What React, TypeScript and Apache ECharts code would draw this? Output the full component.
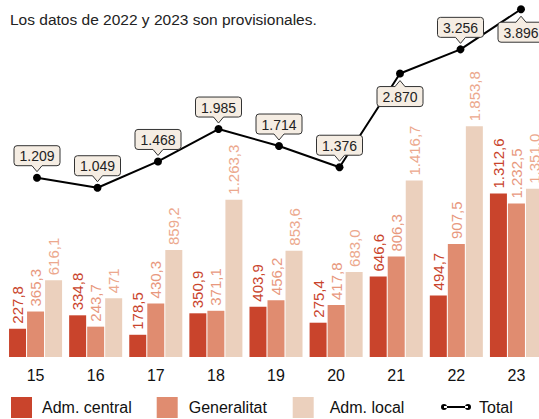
import React, { useEffect, useRef } from "react";
import * as echarts from "echarts";

const CATEGORIES = ["15", "16", "17", "18", "19", "20", "21", "22", "23"];
const ADM_CENTRAL = ["227.8", "334.8", "178.5", "350.9", "403.9", "275.4", "646.6", "494.7", "1312.6"];
const GENERALITAT = ["365.3", "243.7", "430.3", "371.1", "456.2", "417.8", "806.3", "907.5", "1232.5"];
const ADM_LOCAL = ["616.1", "471", "859.2", "1263.3", "853.6", "683.0", "1416.7", "1853.8", "1351.0"];
const TOTAL = [1209, 1049, 1468, 1985, 1714, 1376, 2870, 3256, 3896];
const LABEL_BELOW = ["21", "23"];
const SUBTITLE = "Los datos de 2022 y 2023 son provisionales.";

const FONT = '"Liberation Sans", Arial, Helvetica, sans-serif';
const C_CENTRAL = "#c9442c";
const C_GEN = "#e08c70";
const C_LOCAL = "#ebd0bd";
const L_CENTRAL = "#c9442c";
const L_GEN = "#e8987e";
const L_LOCAL = "#eca88d";
const BOX_FILL = "#f5ede3";

function groupThousands(s: string): string {
  return s.replace(/\B(?=(\d{3})+(?!\d))/g, ".");
}
function fmtRaw(s: string): string {
  const [a, b] = s.split(".");
  return groupThousands(a) + (b !== undefined ? "," + b : "");
}

const TOTAL_ICON =
  "path://M0,4a3,3 0 1,0 6,0a3,3 0 1,0 -6,0Z M24,4a3,3 0 1,0 6,0a3,3 0 1,0 -6,0Z M3,3h24v2h-24Z";

function barSeries(name: string, raw: string[], color: string, labelColor: string) {
  return {
    name,
    type: "bar",
    barWidth: 17,
    barGap: "6%",
    data: raw.map(Number),
    itemStyle: { color },
    label: {
      show: true,
      position: "top",
      rotate: 90,
      align: "left",
      verticalAlign: "middle",
      distance: 5,
      fontSize: 15,
      fontFamily: FONT,
      color: labelColor,
      formatter: (p: any) => fmtRaw(raw[p.dataIndex]),
    },
    z: 2,
  };
}

export default function App() {
  const ref = useRef<HTMLDivElement>(null);
  useEffect(() => {
    if (!ref.current) return;
    const chart = echarts.init(ref.current, null, { renderer: "svg" });
    const legendText = (padLeft: number) => ({
      fontSize: 16,
      fontFamily: FONT,
      color: "#111",
      padding: [0, 0, 0, padLeft],
    });
    chart.setOption({
      animation: false,
      title: {
        text: SUBTITLE,
        left: 10,
        top: 11,
        padding: 0,
        textStyle: { fontSize: 15.5, fontWeight: "normal", color: "#222", fontFamily: FONT },
      },
      grid: [
        { left: 5.5, width: 541, top: 0, bottom: 62, containLabel: false },
        { left: 6.75, width: 544.5, top: 0, bottom: 62, containLabel: false },
      ],
      xAxis: [
        {
          type: "category",
          data: CATEGORIES,
          gridIndex: 0,
          axisLine: { show: false },
          axisTick: { show: false },
          axisLabel: { fontSize: 16, fontFamily: FONT, color: "#111", margin: 10 },
        },
        { type: "category", data: CATEGORIES, gridIndex: 1, show: false },
      ],
      yAxis: [
        { type: "value", gridIndex: 0, min: 0, max: 2867, show: false, splitLine: { show: false } },
        { type: "value", gridIndex: 1, min: -1650.7, max: 4043, show: false, splitLine: { show: false } },
      ],
      legend: [
        {
          data: ["Adm. central"], left: 11, top: 397, padding: 0,
          itemWidth: 21, itemHeight: 21, icon: "rect", textStyle: legendText(5),
        },
        {
          data: ["Generalitat"], left: 156.7, top: 397, padding: 0,
          itemWidth: 21, itemHeight: 21, icon: "rect", textStyle: legendText(6),
        },
        {
          data: ["Adm. local"], left: 292.7, top: 397, padding: 0,
          itemWidth: 21, itemHeight: 21, icon: "rect", textStyle: legendText(11),
        },
        {
          data: [{ name: "Total", icon: TOTAL_ICON }], left: 441, top: 399, padding: 0,
          itemWidth: 30, itemHeight: 8, textStyle: legendText(3),
        },
      ],
      series: [
        barSeries("Adm. central", ADM_CENTRAL, C_CENTRAL, L_CENTRAL),
        barSeries("Generalitat", GENERALITAT, C_GEN, L_GEN),
        barSeries("Adm. local", ADM_LOCAL, C_LOCAL, L_LOCAL),
        {
          name: "Total",
          type: "line",
          xAxisIndex: 1,
          yAxisIndex: 1,
          data: TOTAL,
          symbol: "circle",
          symbolSize: 8,
          lineStyle: { color: "#000", width: 2 },
          itemStyle: { color: "#000" },
          z: 5,
        },
        {
          name: "TotalLabels",
          type: "custom",
          xAxisIndex: 1,
          yAxisIndex: 1,
          data: TOTAL.map((v, i) => [i, v]),
          z: 6,
          silent: true,
          renderItem: (params: any, api: any) => {
            const i = api.value(0);
            const v = api.value(1);
            const pt = api.coord([i, v]);
            const x = pt[0];
            const y = pt[1];
            const below = LABEL_BELOW.includes(CATEGORIES[i]);
            const w = 46;
            const h = 20;
            const pw = 5;
            let tipY: number, baseY: number, boxY: number, inner: number;
            if (below) {
              tipY = y + 7;
              baseY = y + 13;
              boxY = baseY;
              inner = baseY + 1.5;
            } else {
              tipY = y - 6;
              baseY = y - 12;
              boxY = baseY - h;
              inner = baseY - 1.5;
            }
            return {
              type: "group",
              children: [
                {
                  type: "rect",
                  shape: { x: x - w / 2, y: boxY, width: w, height: h, r: 3 },
                  style: { fill: BOX_FILL, stroke: "#333", lineWidth: 1 },
                },
                {
                  type: "polygon",
                  shape: { points: [[x - pw, inner], [x - pw, baseY], [x, tipY], [x + pw, baseY], [x + pw, inner]] },
                  style: { fill: BOX_FILL, stroke: null },
                },
                {
                  type: "polyline",
                  shape: { points: [[x - pw, baseY], [x, tipY], [x + pw, baseY]] },
                  style: { stroke: "#333", lineWidth: 1, fill: null },
                },
                {
                  type: "text",
                  style: {
                    text: groupThousands(String(v)),
                    x,
                    y: boxY + h / 2 + 0.5,
                    align: "center",
                    verticalAlign: "middle",
                    fontSize: 14,
                    fontFamily: FONT,
                    fill: "#222",
                  },
                },
              ],
            };
          },
        },
      ],
    });
    return () => chart.dispose();
  }, []);
  return (
    <div
      ref={ref}
      style={{ position: "fixed", left: 0, top: 0, width: 560, height: 419, background: "#fff" }}
    />
  );
}
